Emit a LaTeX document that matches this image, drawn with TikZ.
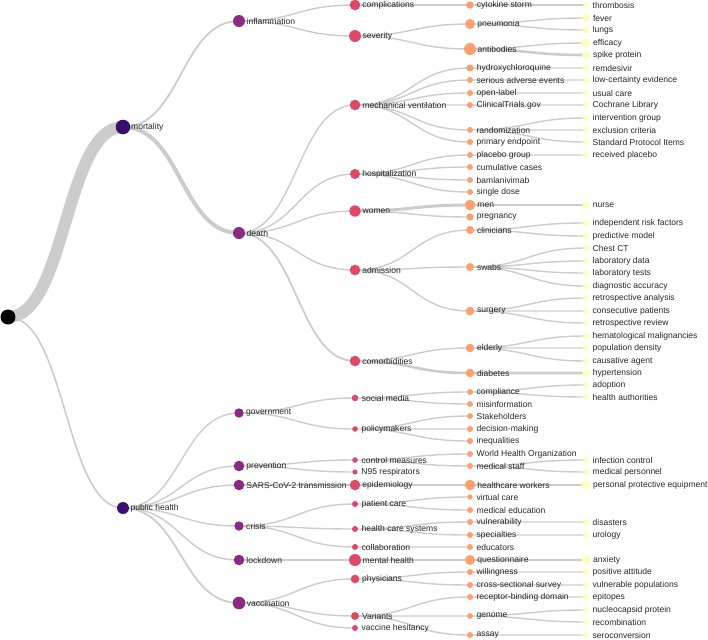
\documentclass[tikz,border=0pt]{standalone}
\usepackage{fontspec}
\setmainfont{Liberation Sans}
\usetikzlibrary{backgrounds}
\definecolor{magmaA}{RGB}{59,15,112}
\definecolor{magmaB}{RGB}{140,41,129}
\definecolor{magmaC}{RGB}{222,73,104}
\definecolor{magmaD}{RGB}{254,159,109}
\definecolor{magmaE}{RGB}{252,253,191}
\definecolor{linkgray}{RGB}{204,204,204}

\begin{document}
\begin{tikzpicture}[x=0.75pt, y=-0.75pt,
  bub/.style={circle, inner sep=0pt, minimum size={#1*1.5pt}, outer sep={(5.6-0.65*#1)*0.75pt}},
  lbl/.style={font=\fontsize{6.4}{7}\selectfont, inner sep=0pt, outer sep=0pt, text=black!85},
  every label/.append style={lbl},
  link/.style={draw=linkgray, line width=1.05pt, to path={.. controls +(58,0) and +(-58,0) .. (\tikztotarget)}},
  wide/.style={line width=#1*0.75pt}
]
  \useasboundingbox (0,0) rectangle (708,640);

  % root and first level
  \node[bub=7.5, fill=black] (root) at (8,317) {};
  \node[bub=7.3, fill=magmaA, label=right:mortality] (mort) at (123,127) {};
  \node[bub=6, fill=magmaA, label=right:public health] (pubh) at (123,508) {};

  % second level
  \node[bub=6, fill=magmaB, label=right:inflammation] (infl) at (239,21) {};
  \node[bub=6, fill=magmaB, label=right:death] (death) at (239,233) {};
  \node[bub=4.7, fill=magmaB, label=right:government] (govt) at (239,413) {};
  \node[bub=5.3, fill=magmaB, label=right:prevention] (prev) at (239,466) {};
  \node[bub=5.3, fill=magmaB, label=right:SARS-CoV-2 transmission] (sars) at (239,485) {};
  \node[bub=4.7, fill=magmaB, label=right:crisis] (crisis) at (239,526) {};
  \node[bub=5.3, fill=magmaB, label=right:lockdown] (lockd) at (239,560) {};
  \node[bub=6.3, fill=magmaB, label=right:vaccination] (vacc) at (239,603) {};

  % third level
  \node[bub=5.3, fill=magmaC, label=right:complications] (compl) at (355,5) {};
  \node[bub=6, fill=magmaC, label=right:severity] (sever) at (355,36) {};
  \node[bub=5.3, fill=magmaC, label=right:mechanical ventilation] (mechv) at (355,105) {};
  \node[bub=5, fill=magmaC, label=right:hospitalization] (hosp) at (355,174) {};
  \node[bub=5.7, fill=magmaC, label=right:women] (women) at (355,211) {};
  \node[bub=5.3, fill=magmaC, label=right:admission] (admis) at (355,270) {};
  \node[bub=5.3, fill=magmaC, label=right:comorbidities] (comorb) at (355,361) {};
  \node[bub=3.3, fill=magmaC, label=right:social media] (socmed) at (355,398) {};
  \node[bub=2.8, fill=magmaC, label=right:policymakers] (policy) at (355,429) {};
  \node[bub=2.8, fill=magmaC, label=right:control measures] (ctrl) at (355,460) {};
  \node[bub=2.5, fill=magmaC, label=right:N95 respirators] (nresp) at (355,472) {};
  \node[bub=5.3, fill=magmaC, label=right:epidemiology] (epid) at (355,485) {};
  \node[bub=3, fill=magmaC, label=right:patient care] (pcare) at (355,504) {};
  \node[bub=3, fill=magmaC, label=right:health care systems] (hcsys) at (355,529) {};
  \node[bub=3, fill=magmaC, label=right:collaboration] (collab) at (355,547) {};
  \node[bub=6, fill=magmaC, label=right:mental health] (mental) at (355,560) {};
  \node[bub=4.3, fill=magmaC, label=right:physicians] (phys) at (355,579) {};
  \node[bub=4, fill=magmaC, label=right:Variants] (variants) at (355,616) {};
  \node[bub=3, fill=magmaC, label=right:vaccine hesitancy] (vhes) at (355,628) {};

  % fourth level
  \node[bub=3.7, fill=magmaD, label=right:cytokine storm] (cyto) at (470,5) {};
  \node[bub=5, fill=magmaD, label=right:pneumonia] (pneu) at (470,24) {};
  \node[bub=6, fill=magmaD, label=right:antibodies] (antib) at (470,49) {};
  \node[bub=3.5, fill=magmaD, label=right:hydroxychloroquine] (hcq) at (470,68) {};
  \node[bub=3, fill=magmaD, label=right:serious adverse events] (sae) at (470,80) {};
  \node[bub=3, fill=magmaD, label=right:open-label] (openl) at (470,93) {};
  \node[bub=3, fill=magmaD, label=right:ClinicalTrials.gov] (ctgov) at (470,105) {};
  \node[bub=3, fill=magmaD, label=right:randomization] (random) at (470,130) {};
  \node[bub=3, fill=magmaD, label=right:primary endpoint] (primep) at (470,142) {};
  \node[bub=3, fill=magmaD, label=right:placebo group] (placebo) at (470,155) {};
  \node[bub=3, fill=magmaD, label=right:cumulative cases] (cumul) at (470,167) {};
  \node[bub=3, fill=magmaD, label=right:bamlanivimab] (bamlan) at (470,180) {};
  \node[bub=3, fill=magmaD, label=right:single dose] (single) at (470,192) {};
  \node[bub=5.3, fill=magmaD, label=right:men] (men) at (470,205) {};
  \node[bub=3.7, fill=magmaD, label=right:pregnancy] (pregn) at (470,217) {};
  \node[bub=4, fill=magmaD, label=right:clinicians] (clin) at (470,230) {};
  \node[bub=4, fill=magmaD, label=right:swabs] (swabs) at (470,267) {};
  \node[bub=4.3, fill=magmaD, label=right:surgery] (surg) at (470,311) {};
  \node[bub=4.3, fill=magmaD, label=right:elderly] (elderly) at (470,348) {};
  \node[bub=4.3, fill=magmaD, label=right:diabetes] (diab) at (470,373) {};
  \node[bub=3, fill=magmaD, label=right:compliance] (complian) at (470,392) {};
  \node[bub=3, fill=magmaD, label=right:misinformation] (misinfo) at (470,404) {};
  \node[bub=3, fill=magmaD, label=right:Stakeholders] (stake) at (470,416) {};
  \node[bub=3, fill=magmaD, label=right:decision-making] (decis) at (470,429) {};
  \node[bub=3, fill=magmaD, label=right:inequalities] (inequal) at (470,441) {};
  \node[bub=3, fill=magmaD, label=right:World Health Organization] (who) at (470,454) {};
  \node[bub=3, fill=magmaD, label=right:medical staff] (medstaff) at (470,466) {};
  \node[bub=5.3, fill=magmaD, label=right:healthcare workers] (hcw) at (470,485) {};
  \node[bub=2.7, fill=magmaD, label=right:virtual care] (vcare) at (470,497) {};
  \node[bub=3, fill=magmaD, label=right:medical education] (medu) at (470,510) {};
  \node[bub=3, fill=magmaD, label=right:vulnerability] (vulner) at (470,522) {};
  \node[bub=3, fill=magmaD, label=right:specialties] (special) at (470,535) {};
  \node[bub=3, fill=magmaD, label=right:educators] (educ) at (470,547) {};
  \node[bub=5, fill=magmaD, label=right:questionnaire] (quest) at (470,560) {};
  \node[bub=3, fill=magmaD, label=right:willingness] (willing) at (470,572) {};
  \node[bub=3, fill=magmaD, label=right:cross-sectional survey] (cross) at (470,585) {};
  \node[bub=3, fill=magmaD, label=right:receptor-binding domain] (rbd) at (470,597) {};
  \node[bub=3, fill=magmaD, label=right:genome] (genome) at (470,616) {};
  \node[bub=3, fill=magmaD, label=right:assay] (assay) at (470,635) {};

  % fifth level
  \node[bub=3, fill=magmaE, label=right:thrombosis] (thromb) at (586,5) {};
  \node[bub=4, fill=magmaE, label=right:fever] (fever) at (586,18) {};
  \node[bub=3.3, fill=magmaE, label=right:lungs] (lungs) at (586,30) {};
  \node[bub=4.3, fill=magmaE, label=right:efficacy] (effic) at (586,43) {};
  \node[bub=4, fill=magmaE, label=right:spike protein] (spike) at (586,55) {};
  \node[bub=3.3, fill=magmaE, label=right:remdesivir] (remdes) at (586,68) {};
  \node[bub=3, fill=magmaE, label=right:low-certainty evidence] (lowcert) at (586,80) {};
  \node[bub=3, fill=magmaE, label=right:usual care] (usual) at (586,93) {};
  \node[bub=3, fill=magmaE, label=right:Cochrane Library] (cochr) at (586,105) {};
  \node[bub=3, fill=magmaE, label=right:intervention group] (interv) at (586,118) {};
  \node[bub=3, fill=magmaE, label=right:exclusion criteria] (exclus) at (586,130) {};
  \node[bub=3, fill=magmaE, label=right:Standard Protocol Items] (spirit) at (586,142) {};
  \node[bub=3, fill=magmaE, label=right:received placebo] (recplac) at (586,155) {};
  \node[bub=3.7, fill=magmaE, label=right:nurse] (nurse) at (586,205) {};
  \node[bub=3, fill=magmaE, label=right:independent risk factors] (indep) at (586,223) {};
  \node[bub=3, fill=magmaE, label=right:predictive model] (predm) at (586,236) {};
  \node[bub=3, fill=magmaE, label=right:Chest CT] (chestct) at (586,248) {};
  \node[bub=3, fill=magmaE, label=right:laboratory data] (labdata) at (586,261) {};
  \node[bub=3, fill=magmaE, label=right:laboratory tests] (labtest) at (586,273) {};
  \node[bub=3, fill=magmaE, label=right:diagnostic accuracy] (diagacc) at (586,286) {};
  \node[bub=3, fill=magmaE, label=right:retrospective analysis] (retroa) at (586,298) {};
  \node[bub=3, fill=magmaE, label=right:consecutive patients] (consec) at (586,311) {};
  \node[bub=3, fill=magmaE, label=right:retrospective review] (retror) at (586,323) {};
  \node[bub=3, fill=magmaE, label=right:hematological malignancies] (hemato) at (586,336) {};
  \node[bub=3, fill=magmaE, label=right:population density] (popden) at (586,348) {};
  \node[bub=3, fill=magmaE, label=right:causative agent] (causa) at (586,361) {};
  \node[bub=3.7, fill=magmaE, label=right:hypertension] (hypert) at (586,373) {};
  \node[bub=3, fill=magmaE, label=right:adoption] (adopt) at (586,385) {};
  \node[bub=3, fill=magmaE, label=right:health authorities] (hauth) at (586,397) {};
  \node[bub=3, fill=magmaE, label=right:infection control] (infctl) at (586,460) {};
  \node[bub=3, fill=magmaE, label=right:medical personnel] (medpers) at (586,472) {};
  \node[bub=4.7, fill=magmaE, label=right:personal protective equipment] (ppe) at (586,485) {};
  \node[bub=3, fill=magmaE, label=right:disasters] (disast) at (586,522) {};
  \node[bub=3, fill=magmaE, label=right:urology] (urol) at (586,535) {};
  \node[bub=4.3, fill=magmaE, label=right:anxiety] (anxiety) at (586,560) {};
  \node[bub=3, fill=magmaE, label=right:positive attitude] (posatt) at (586,572) {};
  \node[bub=3, fill=magmaE, label=right:vulnerable populations] (vulpop) at (586,585) {};
  \node[bub=3, fill=magmaE, label=right:epitopes] (epitop) at (586,597) {};
  \node[bub=3, fill=magmaE, label=right:nucleocapsid protein] (nucleo) at (586,610) {};
  \node[bub=3, fill=magmaE, label=right:recombination] (recomb) at (586,622) {};
  \node[bub=3, fill=magmaE, label=right:seroconversion] (serocon) at (586,635) {};

  % links under everything
  \begin{scope}[on background layer]
    \draw[link, wide=12] (root.center) to (mort.center);
    \draw[link, wide=1.6] (root.center) to (pubh.center);
    \draw[link, wide=1.8] (mort.center) to (infl.center);
    \draw[link, wide=4] (mort.center) to (death.center);
    \draw[link] (infl.center) to (compl.center) (infl.center) to (sever.center);
    \draw[link] (death.center) to (mechv.center) (death.center) to (hosp.center)
      (death.center) to (women.center) (death.center) to (admis.center);
    \draw[link, wide=1.8] (death.center) to (comorb.center);
    \draw[link] (pubh.center) to (govt.center) (pubh.center) to (prev.center)
      (pubh.center) to (sars.center) (pubh.center) to (crisis.center)
      (pubh.center) to (lockd.center);
    \draw[link, wide=1.8] (pubh.center) to (vacc.center);
    \draw[link] (compl.center) to (cyto.center) (cyto.center) to (thromb.center);
    \draw[link] (sever.center) to (pneu.center) (sever.center) to (antib.center)
      (pneu.center) to (fever.center) (pneu.center) to (lungs.center)
      (antib.center) to (effic.center);
    \draw[link, wide=2.6] (antib.center) to (spike.center);
    \draw[link] (mechv.center) to (hcq.center) (mechv.center) to (sae.center)
      (mechv.center) to (openl.center) (mechv.center) to (ctgov.center)
      (mechv.center) to (random.center) (mechv.center) to (primep.center);
    \draw[link] (hcq.center) to (remdes.center) (sae.center) to (lowcert.center)
      (openl.center) to (usual.center) (ctgov.center) to (cochr.center)
      (random.center) to (interv.center) (random.center) to (exclus.center)
      (random.center) to (spirit.center);
    \draw[link] (hosp.center) to (placebo.center) (hosp.center) to (cumul.center)
      (hosp.center) to (bamlan.center) (hosp.center) to (single.center)
      (placebo.center) to (recplac.center);
    \draw[link, wide=3] (women.center) to (men.center);
    \draw[link] (women.center) to (pregn.center);
    \draw[link, wide=1.8] (men.center) to (nurse.center);
    \draw[link] (admis.center) to (clin.center) (admis.center) to (swabs.center)
      (admis.center) to (surg.center)
      (clin.center) to (indep.center) (clin.center) to (predm.center)
      (swabs.center) to (chestct.center) (swabs.center) to (labdata.center)
      (swabs.center) to (labtest.center) (swabs.center) to (diagacc.center)
      (surg.center) to (retroa.center) (surg.center) to (consec.center)
      (surg.center) to (retror.center);
    \draw[link] (comorb.center) to (elderly.center)
      (elderly.center) to (hemato.center) (elderly.center) to (popden.center)
      (elderly.center) to (causa.center);
    \draw[link, wide=2.6] (comorb.center) to (diab.center) (diab.center) to (hypert.center);
    \draw[link] (govt.center) to (socmed.center) (govt.center) to (policy.center)
      (socmed.center) to (complian.center) (socmed.center) to (misinfo.center)
      (complian.center) to (adopt.center) (complian.center) to (hauth.center)
      (policy.center) to (stake.center) (policy.center) to (decis.center)
      (policy.center) to (inequal.center);
    \draw[link] (prev.center) to (ctrl.center) (prev.center) to (nresp.center)
      (ctrl.center) to (who.center) (ctrl.center) to (medstaff.center)
      (medstaff.center) to (infctl.center) (medstaff.center) to (medpers.center);
    \draw[link, wide=1.8] (sars.center) to (epid.center) (epid.center) to (hcw.center)
      (hcw.center) to (ppe.center);
    \draw[link] (crisis.center) to (pcare.center) (crisis.center) to (hcsys.center)
      (crisis.center) to (collab.center)
      (pcare.center) to (vcare.center) (pcare.center) to (medu.center)
      (hcsys.center) to (vulner.center) (hcsys.center) to (special.center)
      (vulner.center) to (disast.center) (special.center) to (urol.center)
      (collab.center) to (educ.center);
    \draw[link, wide=1.8] (lockd.center) to (mental.center) (mental.center) to (quest.center)
      (quest.center) to (anxiety.center);
    \draw[link] (vacc.center) to (phys.center) (vacc.center) to (variants.center)
      (vacc.center) to (vhes.center)
      (phys.center) to (willing.center) (phys.center) to (cross.center)
      (willing.center) to (posatt.center) (cross.center) to (vulpop.center)
      (variants.center) to (rbd.center) (variants.center) to (genome.center)
      (variants.center) to (assay.center)
      (rbd.center) to (epitop.center) (genome.center) to (nucleo.center)
      (genome.center) to (recomb.center) (assay.center) to (serocon.center);
  \end{scope}
\end{tikzpicture}
\end{document}
